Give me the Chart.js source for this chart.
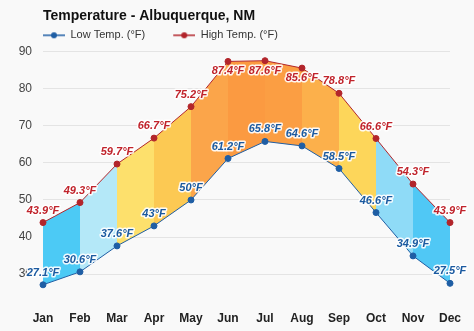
<!DOCTYPE html>
<html lang="en">
<head>
    <meta charset="UTF-8">
    <title>Temperature - Albuquerque, NM</title>
    <script src="https://cdn.jsdelivr.net/npm/chart.js"></script>
    <style>
        html, body { margin: 0; padding: 0; background: #f9f9f9; }
        #wrap { width: 474px; height: 331px; }
    </style>
</head>
<body>
    <div id="wrap"><canvas id="temp-chart"></canvas></div>

    <script>
        // values
        const months = ['Jan', 'Feb', 'Mar', 'Apr', 'May', 'Jun', 'Jul', 'Aug', 'Sep', 'Oct', 'Nov', 'Dec'];
        const lowTemps = [27.1, 30.6, 37.6, 43, 50, 61.2, 65.8, 64.6, 58.5, 46.6, 34.9, 27.5];
        const highTemps = [43.9, 49.3, 59.7, 66.7, 75.2, 87.4, 87.6, 85.6, 78.8, 66.6, 54.3, 43.9];
        const yTicks = [30, 40, 50, 60, 70, 80, 90];

        // band colour for each month-to-month segment
        const bandColors = ['#4ccaf5', '#b4e8f8', '#fde06c', '#fcc953', '#fba54a', '#fb9a41',
                            '#fb9e43', '#fcb04b', '#fdd65a', '#8fdbf7', '#50c8f5'];

        const lowColor = '#1f5ea4';
        const highColor = '#b2252b';

        // "line with a dot" legend marker; the blank left part gives the gap between items
        function legendMarker(color) {
            const c = document.createElement('canvas');
            c.width = 44; c.height = 8;
            const g = c.getContext('2d');
            g.strokeStyle = color; g.lineWidth = 1.5;
            g.beginPath(); g.moveTo(22, 4); g.lineTo(44, 4); g.stroke();
            g.fillStyle = color;
            g.beginPath(); g.arc(33, 4, 3, 0, Math.PI * 2); g.fill();
            return c;
        }

        // value labels with a white halo, flipped below the point near the top edge
        const valueLabels = {
            id: 'valueLabels',
            afterDatasetsDraw(chart) {
                const ctx = chart.ctx;
                const top = chart.chartArea.top;
                ctx.save();
                ctx.font = 'italic bold 11px "Liberation Sans", Arial, sans-serif';
                ctx.textAlign = 'center';
                ctx.textBaseline = 'middle';
                ctx.lineJoin = 'round';
                chart.data.datasets.forEach((ds, i) => {
                    const meta = chart.getDatasetMeta(i);
                    meta.data.forEach((pt, j) => {
                        const text = ds.data[j] + '°F';
                        let y = pt.y - 12;
                        if (y - 6 < top) y = pt.y + 10;
                        ctx.lineWidth = 3;
                        ctx.strokeStyle = 'rgba(255,255,255,0.9)';
                        ctx.strokeText(text, pt.x, y);
                        ctx.fillStyle = ds.labelColor;
                        ctx.fillText(text, pt.x, y);
                    });
                });
                ctx.restore();
            }
        };

        // line the title and legend up with the plot's left edge
        const alignHeader = {
            id: 'alignHeader',
            beforeDraw(chart) {
                if (chart.titleBlock) chart.titleBlock.left = chart.chartArea.left;
                if (chart.legend) {
                    chart.legend.left = chart.chartArea.left - 28;
                    chart.legend.top -= 1;
                }
            }
        };

        new Chart(document.getElementById('temp-chart'), {
            type: 'line',
            data: {
                labels: months,
                datasets: [
                    {
                        label: 'Low Temp. (°F)',
                        data: lowTemps,
                        borderColor: lowColor,
                        backgroundColor: lowColor,
                        labelColor: '#1b5aa0',
                        borderWidth: 1,
                        pointRadius: 3,
                        pointBackgroundColor: lowColor,
                        pointBorderColor: lowColor,
                        fill: false,
                        tension: 0
                    },
                    {
                        label: 'High Temp. (°F)',
                        data: highTemps,
                        borderColor: highColor,
                        backgroundColor: bandColors[0],
                        labelColor: '#c0232b',
                        borderWidth: 1,
                        pointRadius: 3,
                        pointBackgroundColor: highColor,
                        pointBorderColor: highColor,
                        fill: { target: 0 },
                        segment: {
                            backgroundColor: c => bandColors[c.p0DataIndex]
                        },
                        tension: 0
                    }
                ]
            },
            options: {
                responsive: true,
                maintainAspectRatio: false,
                animation: false,
                layout: { padding: { top: 4, right: 24, bottom: 0, left: 0 } },
                plugins: {
                    title: {
                        display: true,
                        text: 'Temperature - Albuquerque, NM',
                        align: 'start',
                        color: '#111',
                        font: { family: '"Liberation Sans", Arial, sans-serif', size: 14, weight: 'bold' },
                        padding: { top: 4, bottom: 0 }
                    },
                    legend: {
                        display: true,
                        align: 'start',
                        labels: {
                            color: '#333',
                            font: { family: '"Liberation Sans", Arial, sans-serif', size: 11 },
                            usePointStyle: true,
                            pointStyleWidth: 44,
                            boxHeight: 8,
                            padding: 6,
                            generateLabels(chart) {
                                return chart.data.datasets.map((ds, i) => ({
                                    text: ds.label,
                                    pointStyle: legendMarker(ds.borderColor),
                                    fillStyle: ds.borderColor,
                                    strokeStyle: ds.borderColor,
                                    lineWidth: 0,
                                    fontColor: '#333',
                                    hidden: false,
                                    datasetIndex: i
                                }));
                            }
                        }
                    },
                    tooltip: { enabled: false }
                },
                scales: {
                    x: {
                        offset: false,
                        grid: { display: false },
                        border: { display: false },
                        ticks: {
                            color: '#222',
                            padding: 3,
                            maxRotation: 0,
                            font: { family: '"Liberation Sans", Arial, sans-serif', size: 12, weight: 'bold' }
                        },
                        afterFit(scale) { scale.height = 31; }
                    },
                    y: {
                        min: 23,
                        max: 90,
                        afterBuildTicks(scale) { scale.ticks = yTicks.map(v => ({ value: v })); },
                        grid: { color: '#e4e4e4', drawTicks: false },
                        border: { display: false },
                        ticks: {
                            color: '#444',
                            padding: 11,
                            font: { family: '"Liberation Sans", Arial, sans-serif', size: 12 }
                        },
                        afterFit(scale) { scale.width = 43; }
                    }
                }
            },
            plugins: [valueLabels, alignHeader]
        });
    </script>
</body>
</html>
